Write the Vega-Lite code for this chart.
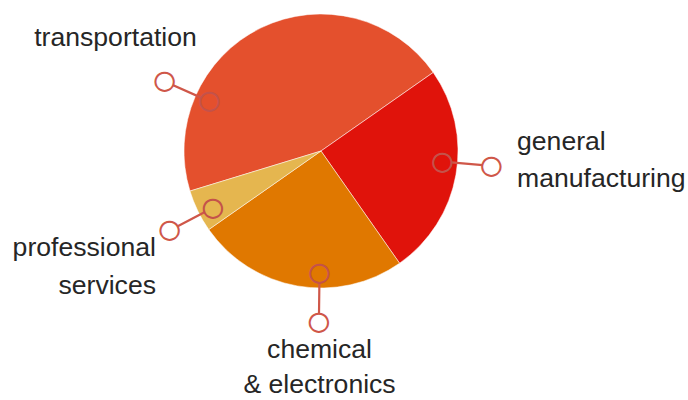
{
  "$schema": "https://vega.github.io/schema/vega-lite/v6.json",
  "width": 642,
  "height": 302,
  "autosize": "none",
  "padding": {"left": 0, "top": 0, "right": 46, "bottom": 98},
  "background": "#ffffff",
  "config": {"view": {"stroke": null}},
  "datasets": {
    "shares": [
      {"sector": "transportation", "share": 45, "rank": 1},
      {"sector": "general manufacturing", "share": 25, "rank": 2},
      {"sector": "chemical & electronics", "share": 25, "rank": 3},
      {"sector": "professional services", "share": 5, "rank": 4}
    ],
    "notes": [
      {"sector": "transportation", "label": "transportation", "lineAt": 294, "labelAt": 297.1, "labelDist": 1.685},
      {"sector": "general manufacturing", "label": "general\nmanufacturing", "lineAt": 95, "labelAt": 89.7, "labelDist": 1.431},
      {"sector": "chemical & electronics", "label": "chemical\n& electronics", "lineAt": 180.7, "labelAt": 180.4, "labelDist": 1.511},
      {"sector": "professional services", "label": "professional\nservices", "lineAt": 242.3, "labelAt": 237.5, "labelDist": 1.428}
    ]
  },
  "layer": [
    {
      "data": {"name": "shares"},
      "mark": {"type": "arc", "outerRadius": 137, "stroke": "#ffffff", "strokeWidth": 1, "strokeOpacity": 0.5},
      "encoding": {
        "theta": {"field": "share", "type": "quantitative", "stack": true, "scale": {"range": [-1.8675, 4.4157]}},
        "color": {
          "field": "sector", "type": "nominal", "legend": null,
          "scale": {
            "domain": ["transportation", "general manufacturing", "chemical & electronics", "professional services"],
            "range": ["#E4502D", "#E0130B", "#E07800", "#E5B64F"]
          }
        },
        "order": {"field": "rank", "type": "quantitative"}
      }
    },
    {
      "data": {"name": "notes"},
      "mark": {"type": "arc", "innerRadius": 122, "outerRadius": 171, "stroke": "#CF5749", "strokeWidth": 2.2, "fillOpacity": 0},
      "encoding": {
        "theta": {"field": "lineAt", "type": "quantitative", "stack": null, "scale": {"domain": [0, 360], "range": [0, 6.283185]}},
        "theta2": {"field": "lineAt"}
      }
    },
    {
      "data": {"name": "notes"},
      "mark": {"type": "text", "text": "●", "font": "DejaVu Sans", "fontSize": 24, "radius": 122, "stroke": "#C4524A", "strokeWidth": 2, "align": "center", "baseline": "middle"},
      "encoding": {
        "theta": {"field": "lineAt", "type": "quantitative", "stack": null, "scale": {"domain": [0, 360], "range": [0, 6.283185]}},
        "color": {"field": "sector", "type": "nominal", "legend": null}
      }
    },
    {
      "data": {"name": "notes"},
      "mark": {"type": "text", "text": "●", "font": "DejaVu Sans", "fontSize": 24, "radius": 171, "fill": "#ffffff", "stroke": "#CF5749", "strokeWidth": 2, "align": "center", "baseline": "middle"},
      "encoding": {
        "theta": {"field": "lineAt", "type": "quantitative", "stack": null, "scale": {"domain": [0, 360], "range": [0, 6.283185]}}
      }
    },
    {
      "data": {"name": "notes"},
      "transform": [{"filter": {"field": "sector", "oneOf": ["transportation", "chemical & electronics"]}}],
      "mark": {"type": "text", "font": "Liberation Sans", "fontSize": 26.6, "color": "#262626", "align": "center", "baseline": "alphabetic", "lineBreak": "\n", "lineHeight": 35},
      "encoding": {
        "theta": {"field": "labelAt", "type": "quantitative", "stack": null, "scale": {"domain": [0, 360], "range": [0, 6.283185]}},
        "radius": {"field": "labelDist", "type": "quantitative", "scale": {"type": "linear", "domain": [0, 2], "range": [0, 274], "zero": true}},
        "text": {"field": "label", "type": "nominal"}
      }
    },
    {
      "data": {"name": "notes"},
      "transform": [{"filter": {"field": "sector", "oneOf": ["general manufacturing"]}}],
      "mark": {"type": "text", "font": "Liberation Sans", "fontSize": 26.6, "color": "#262626", "align": "left", "baseline": "alphabetic", "lineBreak": "\n", "lineHeight": 37},
      "encoding": {
        "theta": {"field": "labelAt", "type": "quantitative", "stack": null, "scale": {"domain": [0, 360], "range": [0, 6.283185]}},
        "radius": {"field": "labelDist", "type": "quantitative", "scale": {"type": "linear", "domain": [0, 2], "range": [0, 274], "zero": true}},
        "text": {"field": "label", "type": "nominal"}
      }
    },
    {
      "data": {"name": "notes"},
      "transform": [{"filter": {"field": "sector", "oneOf": ["professional services"]}}],
      "mark": {"type": "text", "font": "Liberation Sans", "fontSize": 26.6, "color": "#262626", "align": "right", "baseline": "alphabetic", "lineBreak": "\n", "lineHeight": 38},
      "encoding": {
        "theta": {"field": "labelAt", "type": "quantitative", "stack": null, "scale": {"domain": [0, 360], "range": [0, 6.283185]}},
        "radius": {"field": "labelDist", "type": "quantitative", "scale": {"type": "linear", "domain": [0, 2], "range": [0, 274], "zero": true}},
        "text": {"field": "label", "type": "nominal"}
      }
    }
  ],
  "resolve": {"scale": {"theta": "independent", "radius": "independent"}}
}
